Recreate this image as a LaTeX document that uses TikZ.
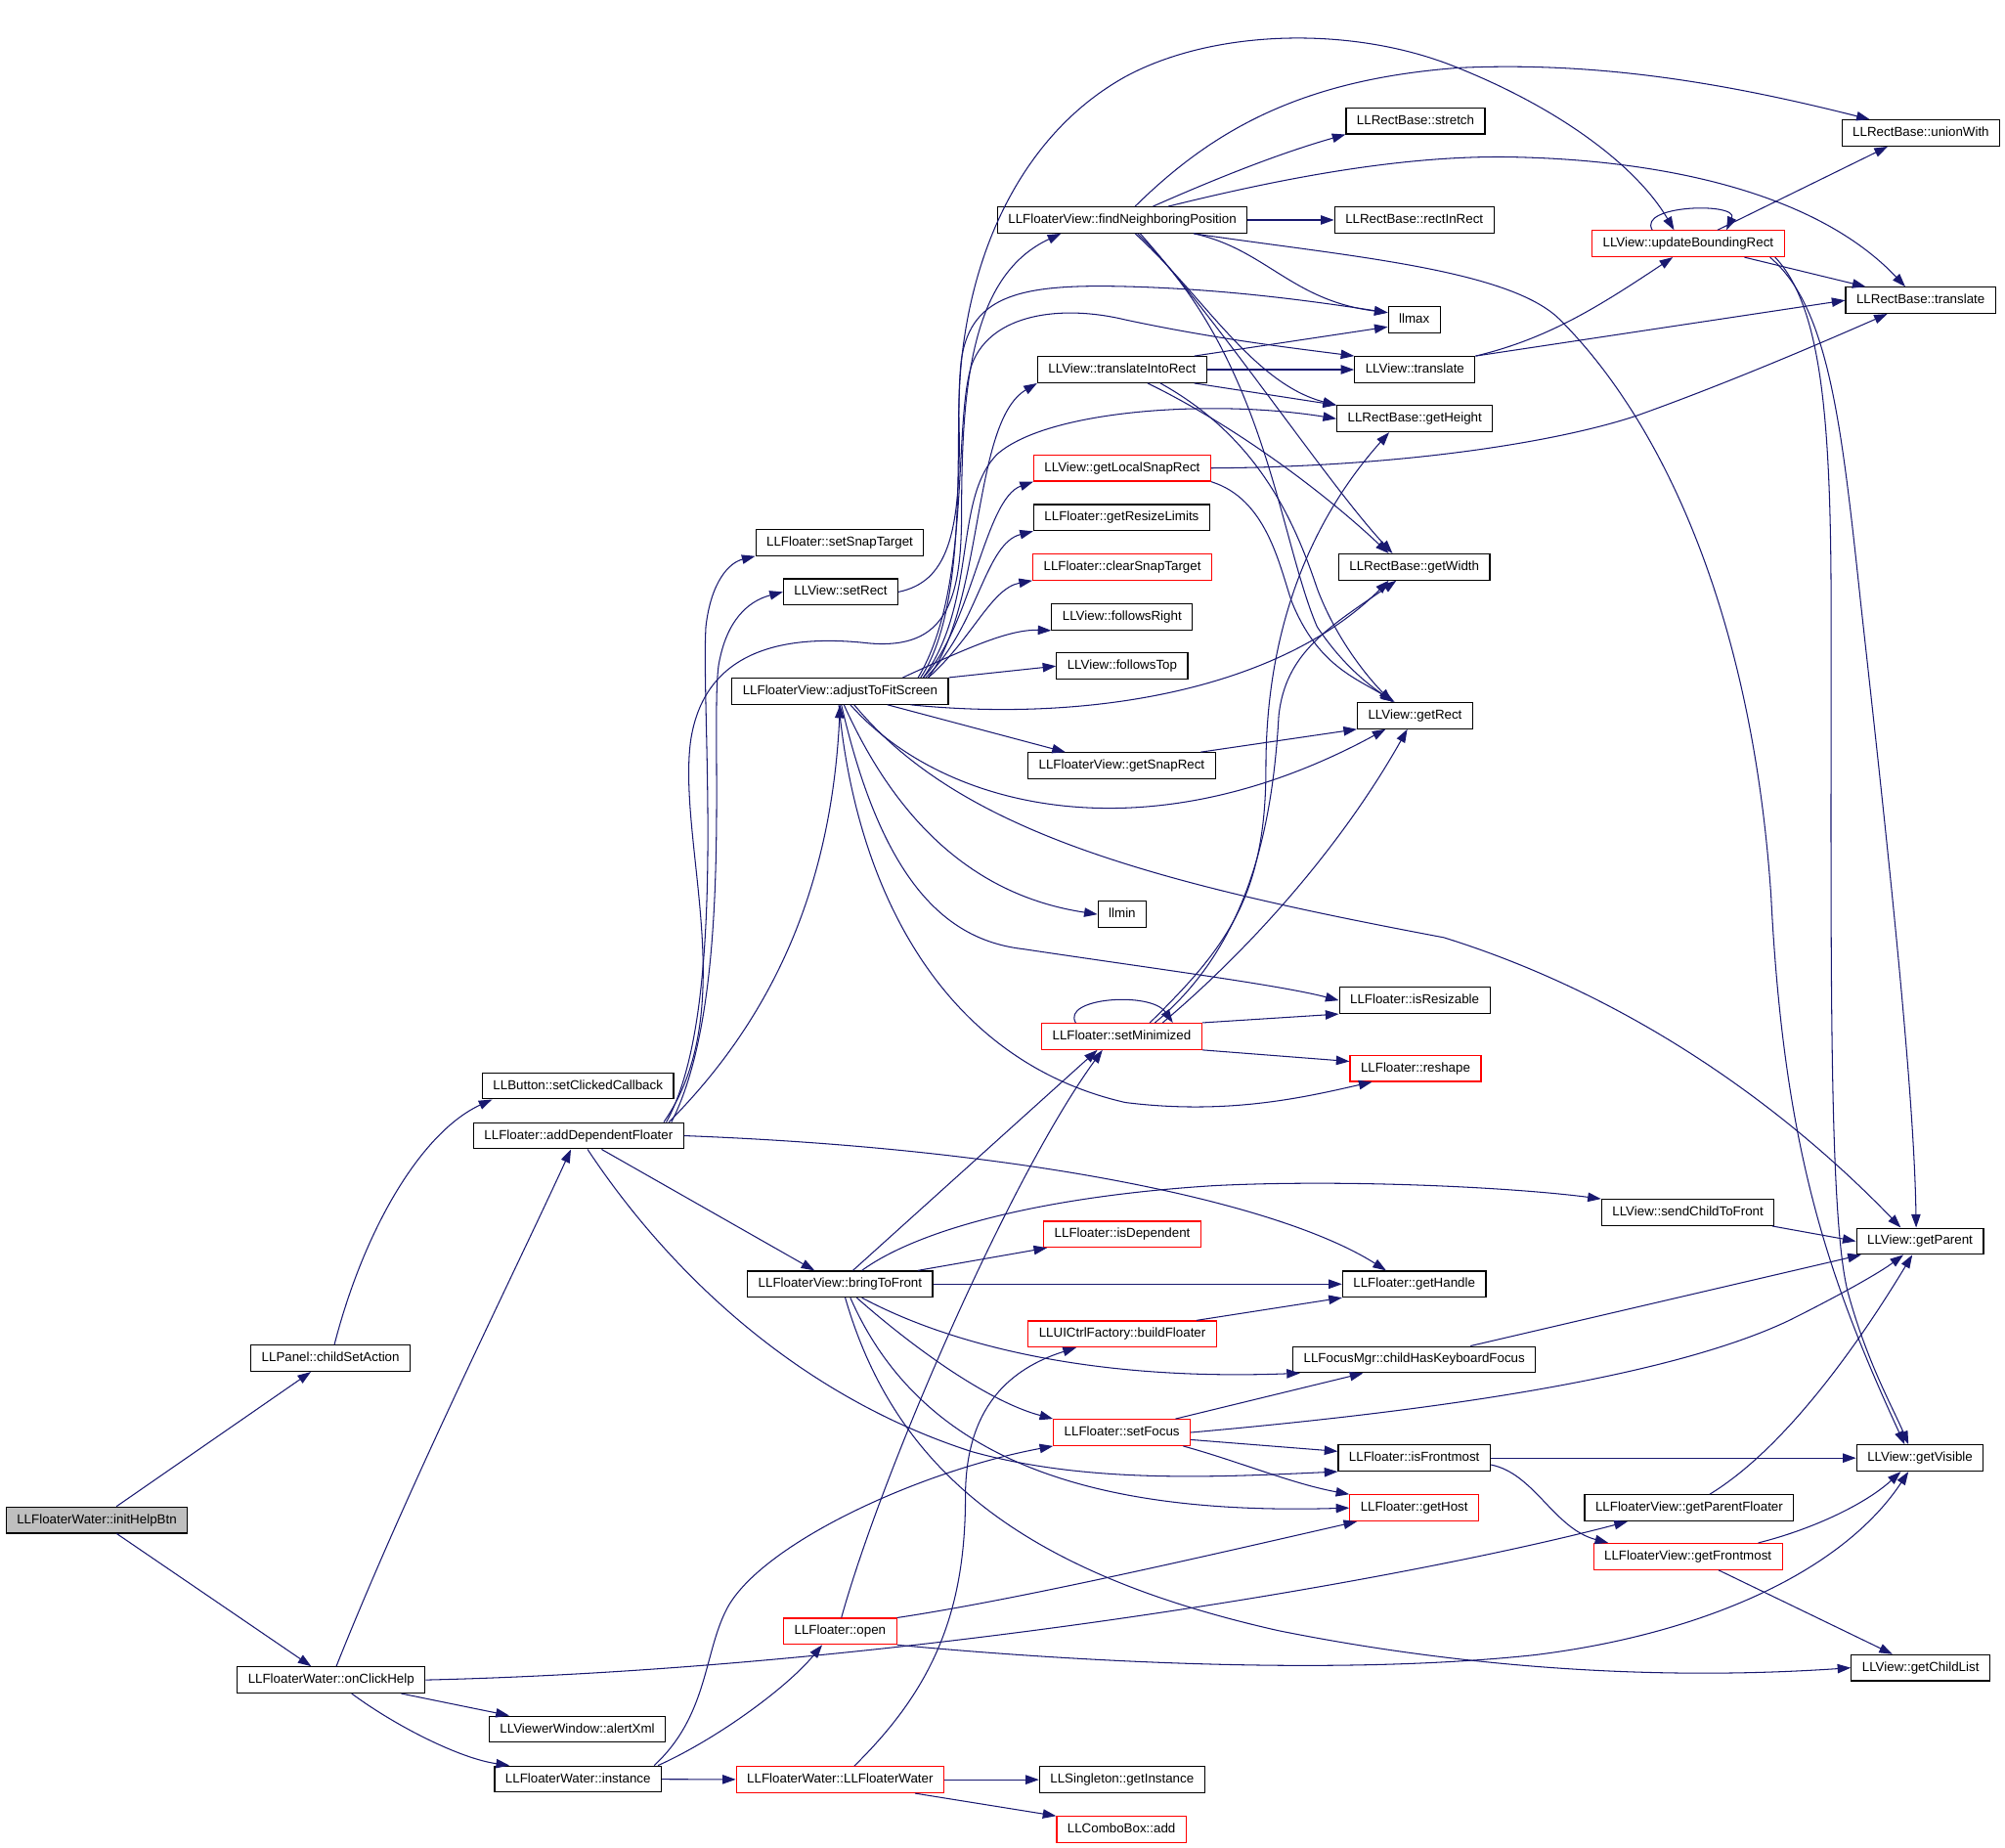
\documentclass[tikz,border=0pt]{standalone}
\usepackage{fontspec}
\setmainfont{Liberation Sans}
\usetikzlibrary{arrows.meta}
\definecolor{edgenavy}{RGB}{25,25,112}
\tikzset{every picture/.style={line width=0.4pt}}
\tikzset{
  fnbox/.style={draw=black, line width=0.45pt, inner xsep=4.2pt, inner ysep=0pt, minimum height=10.2pt, text height=3.7pt, text depth=1pt, font=\fontsize{5.1}{6}\selectfont},
  fnred/.style={fnbox, draw=red},
  fnroot/.style={fnbox, fill={rgb, 255:red, 191; green, 191; blue, 191}},
  callarrow/.style={draw=edgenavy, -{Triangle[length=5.2pt,width=3.6pt]}},
}
\begin{document}
\begin{tikzpicture}[x=0.5pt,y=0.5pt,yscale=-1,xscale=1]
\useasboundingbox (0,0) rectangle (1568,1444.2);

% Text Node
\node[fnroot] (root) at (75.7,1188.5) {LLFloaterWater::initHelpBtn};
% Text Node
\node[fnbox] (childset) at (258.5,1062) {LLPanel::childSetAction};
\node[fnbox] (onclick) at (259,1313.5) {LLFloaterWater::onClickHelp};
% Text Node
\node[fnbox] (clickcb) at (452,849) {LLButton::setClickedCallback};
\node[fnbox] (adddep) at (452.5,888) {LLFloater::addDependentFloater};
\node[fnbox] (alertxml) at (451.5,1352) {LLViewerWindow::alertXml};
\node[fnbox] (instance) at (452,1391) {LLFloaterWater::instance};
% Text Node
\node[fnbox] (setsnap) at (656.7,424.2) {LLFloater::setSnapTarget};
\node[fnbox] (setrect) at (657.5,462.8) {LLView::setRect};
\node[fnbox] (adjust) at (657,540.4) {LLFloaterView::adjustToFitScreen};
\node[fnbox] (bringfront) at (657,1004) {LLFloaterView::bringToFront};
\node[fnred] (open) at (657,1275.5) {LLFloater::open};
\node[fnred] (ctor) at (657,1391.5) {LLFloaterWater::LLFloaterWater};
% Text Node
\node[fnbox] (findnb) at (877.7,172) {LLFloaterView::findNeighboringPosition};
\node[fnbox] (intorect) at (877.5,289) {LLView::translateIntoRect};
\node[fnred] (localsnap) at (877.6,366) {LLView::getLocalSnapRect};
\node[fnbox] (resizelim) at (877.2,404.7) {LLFloater::getResizeLimits};
\node[fnred] (clearsnap) at (877.7,443.3) {LLFloater::clearSnapTarget};
\node[fnbox] (followsright) at (877.5,482.3) {LLView::followsRight};
\node[fnbox] (followstop) at (877.6,520.8) {LLView::followsTop};
\node[fnbox] (snaprect) at (877.2,598.7) {LLFloaterView::getSnapRect};
\node[fnbox] (llmin) at (877.6,714.9) {llmin};
\node[fnred] (setmin) at (877.2,810.3) {LLFloater::setMinimized};
\node[fnred] (isdep) at (877.7,965) {LLFloater::isDependent};
\node[fnred] (buildfl) at (877.7,1043) {LLUICtrlFactory::buildFloater};
\node[fnred] (setfocus) at (877.4,1120) {LLFloater::setFocus};
\node[fnbox] (getinst) at (877.5,1391.5) {LLSingleton::getInstance};
\node[fnred] (comboadd) at (877,1430.5) {LLComboBox::add};
% Text Node
\node[fnbox] (stretch) at (1107,94.5) {LLRectBase::stretch};
\node[fnbox] (rectin) at (1106,172) {LLRectBase::rectInRect};
\node[fnbox] (llmax) at (1106,250) {llmax};
\node[fnbox] (vtranslate) at (1106.5,289) {LLView::translate};
\node[fnbox] (getheight) at (1106.4,327.4) {LLRectBase::getHeight};
\node[fnbox] (getwidth) at (1106,443.3) {LLRectBase::getWidth};
\node[fnbox] (getrect) at (1106.6,559.5) {LLView::getRect};
\node[fnbox] (isresize) at (1106.3,782.2) {LLFloater::isResizable};
\node[fnred] (reshape) at (1107,835.3) {LLFloater::reshape};
\node[fnbox] (gethandle) at (1106,1004) {LLFloater::getHandle};
\node[fnbox] (kbfocus) at (1106,1063) {LLFocusMgr::childHasKeyboardFocus};
\node[fnbox] (isfront) at (1106,1140) {LLFloater::isFrontmost};
\node[fnred] (gethost) at (1106,1179) {LLFloater::getHost};
% Text Node
\node[fnred] (updbound) at (1320.2,190.5) {LLView::updateBoundingRect};
\node[fnbox] (sendfront) at (1320,948) {LLView::sendChildToFront};
\node[fnbox] (parentfl) at (1321,1179) {LLFloaterView::getParentFloater};
\node[fnred] (frontmost) at (1320,1217) {LLFloaterView::getFrontmost};
% Text Node
\node[fnbox] (unionwith) at (1502.2,104) {LLRectBase::unionWith};
\node[fnbox] (rtranslate) at (1502,234.8) {LLRectBase::translate};
\node[fnbox] (getparent) at (1501.5,970.5) {LLView::getParent};
\node[fnbox] (getvisible) at (1501.5,1140) {LLView::getVisible};
\node[fnbox] (childlist) at (1502,1304) {LLView::getChildList};

%Straight Lines
\draw[callarrow] (root) -- (childset);
\draw[callarrow] (root) -- (onclick);
%Curve Lines
\draw[callarrow] ([xshift=1.5pt]childset.north) .. controls (285,960) and (330,885) .. ([xshift=4pt]clickcb.south west);
\draw[callarrow] ([xshift=2pt]onclick.north) .. controls (320,1160) and (400,1000) .. ([xshift=-3pt]adddep.south);
\draw[callarrow] ([xshift=-9.5pt]onclick.south east) -- ([xshift=8pt]alertxml.north west);
\draw[callarrow] ([xshift=8pt]onclick.south) .. controls (310,1350) and (360,1375) .. ([xshift=6pt]instance.north west);
\draw[callarrow] (onclick.east) .. controls (700,1305) and (1100,1235) .. ([xshift=17pt]parentfl.south west);

%Curve Lines
\draw[callarrow] (instance) -- (ctor);
\draw[callarrow] ([xshift=-1.5pt]instance.north east) .. controls (560,1360) and (615,1320) .. ([xshift=-7pt]open.south);
\draw[callarrow] ([xshift=-3pt]instance.north east) .. controls (555,1340) and (550,1290) .. (570,1255) .. controls (600,1205) and (720,1150) .. (setfocus.south west);
\draw[callarrow] (ctor) -- (getinst);
\draw[callarrow] ([xshift=-11.5pt]ctor.south east) -- (comboadd.north west);
\draw[callarrow] ([xshift=5.5pt]ctor.north) .. controls (730,1320) and (755,1260) .. (755,1170) .. controls (755,1100) and (790,1070) .. ([xshift=19pt]buildfl.south west);
\draw[callarrow] ([xshift=0.5pt]open.north) .. controls (690,1150) and (790,920) .. ([xshift=-7.5pt]setmin.south);
\draw[callarrow] (open.north east) .. controls (800,1250) and (950,1215) .. ([xshift=3pt]gethost.south west);
\draw[callarrow] (open.south east) .. controls (850,1300) and (1050,1310) .. (1200,1294) .. controls (1330,1278) and (1440,1230) .. ([xshift=-4.5pt]getvisible.south);

%Curve Lines
\draw[callarrow] ([xshift=5pt]bringfront.north) -- ([xshift=-9.5pt]setmin.south);
\draw[callarrow] ([xshift=-6pt]bringfront.north east) -- ([xshift=1.5pt]isdep.south west);
\draw[callarrow] (bringfront) -- (gethandle);
\draw[callarrow] ([xshift=8.5pt]bringfront.north) .. controls (720,960) and (820,935) .. (950,927) .. controls (1050,922) and (1180,928) .. (sendfront.north west);
\draw[callarrow] ([xshift=8.5pt]bringfront.south) .. controls (740,1050) and (850,1080) .. ([xshift=3pt]kbfocus.south west);
\draw[callarrow] ([xshift=6.5pt]bringfront.south) .. controls (710,1050) and (770,1095) .. (setfocus.north west);
\draw[callarrow] ([xshift=4pt]bringfront.south) .. controls (720,1140) and (850,1185) .. (gethost.west);
\draw[callarrow] ([xshift=2pt]bringfront.south) .. controls (700,1150) and (800,1230) .. (1000,1275) .. controls (1150,1305) and (1300,1314) .. (childlist.west);

%Curve Lines
\draw[callarrow] ([xshift=3.5pt]adddep.south) .. controls (520,990) and (620,1090) .. (760,1135) .. controls (850,1160) and (950,1155) .. (isfront.south west);
\draw[callarrow] ([xshift=9pt]adddep.south) -- ([xshift=-10pt]bringfront.north);
\draw[callarrow] (adddep.east) .. controls (800,898) and (1000,940) .. ([xshift=-11pt]gethandle.north);
\draw[callarrow] ([xshift=-6pt]adddep.north east) .. controls (600,800) and (650,700) .. (adjust.south);
\draw[callarrow] ([xshift=-7pt]adddep.north east) .. controls (570,790) and (548,560) .. (552,490) .. controls (556,455) and (570,440) .. (setsnap.south west);
\draw[callarrow] ([xshift=-5pt]adddep.north east) .. controls (575,780) and (555,570) .. (562,520) .. controls (568,485) and (585,470) .. (setrect.west);
\draw[callarrow] ([xshift=-8pt]adddep.north east) .. controls (580,790) and (530,660) .. (540,580) .. controls (550,510) and (610,495) .. (680,503) .. controls (740,508) and (752,470) .. (752,400) .. controls (752,300) and (760,215) .. ([xshift=-24pt]findnb.south);

%Curve Lines
\draw[callarrow] ([xshift=5.5pt]adjust.south) .. controls (750,650) and (900,690) .. (1129,733) .. controls (1280,780) and (1400,870) .. ([xshift=-7.5pt]getparent.north);
\draw[callarrow] ([xshift=-15pt]adjust.south east) .. controls (850,565) and (1000,540) .. ([xshift=-10pt]getwidth.south);
\draw[callarrow] ([xshift=4pt]adjust.south) .. controls (740,635) and (900,670) .. ([xshift=-11.5pt]getrect.south);
\draw[callarrow] ([xshift=18.5pt]adjust.south) -- ([xshift=-22pt]snaprect.north);
\draw[callarrow] ([xshift=1.5pt]adjust.south) .. controls (700,640) and (760,700) .. (llmin.west);
\draw[callarrow] ([xshift=0.5pt]adjust.south) .. controls (690,690) and (740,735) .. (800,742) .. controls (900,757) and (1000,770) .. (isresize.west);
\draw[callarrow] ([xshift=-0.5pt]adjust.south) .. controls (670,700) and (740,830) .. (880,862) .. controls (960,872) and (1020,858) .. ([xshift=-17pt]reshape.south);
\draw[callarrow] ([xshift=-8pt]adjust.north east) .. controls (770,470) and (760,330) .. (intorect.south west);
\draw[callarrow] ([xshift=-10pt]adjust.north east) .. controls (760,490) and (770,390) .. (localsnap.south west);
\draw[callarrow] ([xshift=-9pt]adjust.north east) .. controls (765,490) and (770,425) .. (resizelim.south west);
\draw[callarrow] ([xshift=-8pt]adjust.north east) .. controls (760,500) and (775,460) .. (clearsnap.south west);
\draw[callarrow] ([xshift=-18pt]adjust.north east) .. controls (760,505) and (790,492) .. (followsright.south west);
\draw[callarrow] (adjust.north east) -- (followstop.west);
\draw[callarrow] ([xshift=-11pt]adjust.north east) .. controls (760,470) and (745,330) .. (752,280) .. controls (760,230) and (800,222) .. (880,224) .. controls (960,226) and (1030,236) .. (llmax.165);
\draw[callarrow] ([xshift=-12pt]adjust.north east) .. controls (760,460) and (745,330) .. (760,285) .. controls (775,245) and (830,238) .. (880,250) .. controls (950,265) and (1010,272) .. (vtranslate.north west);
\draw[callarrow] ([xshift=-10pt]adjust.north east) .. controls (765,470) and (745,390) .. (780,355) .. controls (820,320) and (950,312) .. (getheight.west);

%Curve Lines
\draw[callarrow] (setrect.east) .. controls (740,455) and (752,420) .. (750,330) .. controls (748,220) and (790,110) .. (880,60) .. controls (950,22) and (1060,20) .. (1140,53) .. controls (1220,85) and (1280,130) .. ([xshift=-5.5pt]updbound.north);

%Curve Lines
\draw[callarrow] (findnb) -- (rectin);
\draw[callarrow] ([xshift=12pt]findnb.north) .. controls (950,140) and (1000,120) .. (stretch.south west);
\draw[callarrow] ([xshift=5pt]findnb.north) .. controls (950,100) and (1020,62) .. (1141,53) .. controls (1250,48) and (1350,65) .. ([xshift=-20pt]unionwith.north);
\draw[callarrow] ([xshift=18pt]findnb.north) .. controls (1000,140) and (1100,120) .. (1190,123) .. controls (1300,126) and (1420,150) .. ([xshift=-6pt]rtranslate.north);
\draw[callarrow] ([xshift=28pt]findnb.south) .. controls (1050,200) and (1180,210) .. (1220,250) .. controls (1300,330) and (1370,480) .. (1385,700) .. controls (1395,900) and (1430,1000) .. ([xshift=-6pt]getvisible.north);
\draw[callarrow] ([xshift=28pt]findnb.south) .. controls (990,195) and (1010,235) .. (llmax.165);
\draw[callarrow] ([xshift=5pt]findnb.south) .. controls (940,230) and (980,300) .. (getheight.north west);
\draw[callarrow] ([xshift=6pt]findnb.south) .. controls (990,280) and (1000,420) .. (1030,490) .. controls (1050,520) and (1070,535) .. ([xshift=-8.5pt]getrect.north);
\draw[callarrow] ([xshift=7pt]findnb.south) .. controls (960,260) and (1040,380) .. ([xshift=-8.5pt]getwidth.north);

%Curve Lines
\draw[callarrow] (intorect) -- (vtranslate);
\draw[callarrow] ([xshift=-5pt]intorect.north east) -- (llmax.195);
\draw[callarrow] ([xshift=-5pt]intorect.south east) -- (getheight.north west);
\draw[callarrow] ([xshift=10pt]intorect.south) .. controls (960,330) and (1030,380) .. ([xshift=-10pt]getwidth.north);
\draw[callarrow] ([xshift=15pt]intorect.south) .. controls (980,340) and (1010,400) .. (1030,460) .. controls (1045,500) and (1070,530) .. ([xshift=-9pt]getrect.north);
\draw[callarrow] (localsnap.east) .. controls (1100,365) and (1220,345) .. (1280,325) .. controls (1350,300) and (1420,270) .. ([xshift=-13pt]rtranslate.south);
\draw[callarrow] (localsnap.south east) .. controls (990,390) and (1000,440) .. (1010,470) .. controls (1030,520) and (1060,530) .. ([xshift=-8pt]getrect.north);
\draw[callarrow] ([xshift=-6pt]snaprect.north east) -- (getrect.south west);

%Curve Lines
\draw[callarrow] ([xshift=-18pt]setmin.north) .. controls (830,780) and (900,775) .. ([xshift=20pt]setmin.north);
\draw[callarrow] (setmin.north east) -- (isresize.south west);
\draw[callarrow] (setmin.south east) -- (reshape.174);
\draw[callarrow] ([xshift=11pt]setmin.north) .. controls (960,740) and (990,700) .. (990,600) .. controls (990,470) and (1040,390) .. ([xshift=-10pt]getheight.south);
\draw[callarrow] ([xshift=13pt]setmin.north) .. controls (975,740) and (995,650) .. (1000,560) .. controls (1005,510) and (1040,490) .. ([xshift=-7pt]getwidth.south);
\draw[callarrow] ([xshift=16pt]setmin.north) .. controls (980,740) and (1050,660) .. ([xshift=-3pt]getrect.south);

%Curve Lines
\draw[callarrow] ([xshift=-1pt]sendfront.south east) -- (getparent.west);
\draw[callarrow] ([xshift=-8pt]buildfl.north east) -- (gethandle.south west);
\draw[callarrow] ([xshift=22pt]kbfocus.north) -- ([xshift=2pt]getparent.south west);
\draw[callarrow] ([xshift=-6pt]setfocus.north east) -- ([xshift=-20pt]kbfocus.south);
\draw[callarrow] (setfocus.east) .. controls (1100,1105) and (1300,1080) .. (1400,1032) .. controls (1440,1012) and (1470,995) .. ([xshift=-6.5pt]getparent.south);
\draw[callarrow] (setfocus.-6) -- (isfront.175);
\draw[callarrow] ([xshift=-3pt]setfocus.south east) .. controls (970,1143) and (1010,1160) .. (gethost.north west);
\draw[callarrow] (isfront) -- (getvisible);
\draw[callarrow] (isfront.-5) .. controls (1200,1152) and (1215,1195) .. ([xshift=6pt]frontmost.north west);
\draw[callarrow] ([xshift=8pt]parentfl.north) .. controls (1400,1130) and (1460,1040) .. ([xshift=-3pt]getparent.south);
\draw[callarrow] ([xshift=27.5pt]frontmost.north) .. controls (1420,1195) and (1460,1175) .. ([xshift=-7.5pt]getvisible.south);
\draw[callarrow] ([xshift=12pt]frontmost.south) -- ([xshift=-11pt]childlist.north);

%Curve Lines
\draw[callarrow] ([xshift=-14pt]updbound.north) .. controls (1280,160) and (1360,158) .. ([xshift=15pt]updbound.north);
\draw[callarrow] ([xshift=11.5pt]updbound.north) -- ([xshift=-13pt]unionwith.south);
\draw[callarrow] ([xshift=22pt]updbound.south) -- ([xshift=-21.5pt]rtranslate.north);
\draw[callarrow] ([xshift=32pt]updbound.south) .. controls (1430,240) and (1440,330) .. (1455,470) .. controls (1475,650) and (1497,850) .. ([xshift=-1.5pt]getparent.north);
\draw[callarrow] ([xshift=34pt]updbound.south) .. controls (1425,240) and (1432,330) .. (1432,480) .. controls (1432,750) and (1430,950) .. (1445,1010) .. controls (1460,1065) and (1480,1100) .. ([xshift=-4.5pt]getvisible.north);
\draw[callarrow] (vtranslate.north east) .. controls (1210,265) and (1250,240) .. ([xshift=-6pt]updbound.south);
\draw[callarrow] (vtranslate.north east) -- (rtranslate.west);

\end{tikzpicture}
\end{document}
